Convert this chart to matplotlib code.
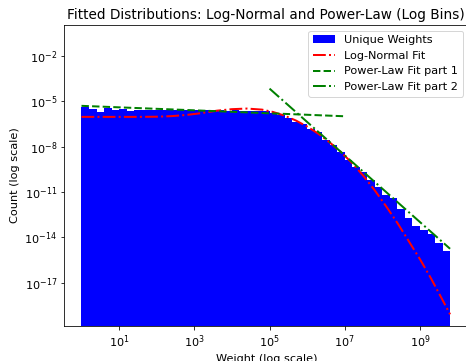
import matplotlib
matplotlib.use("Agg")
import matplotlib.pyplot as plt
import numpy as np

# ---- histogram: log bins (0.2 decade), heights as log10 values ----
bin_log_edges = np.arange(0, 9.81, 0.2)
hist_log_h = [-5.35, -5.53, -5.73, -5.46, -5.58, -5.53, -5.64, -5.58,
              -5.55, -5.57, -5.56, -5.58, -5.57, -5.59, -5.58, -5.60,
              -5.59, -5.60, -5.60, -5.61, -5.60, -5.62, -5.63, -5.64,
              -5.66, -5.75, -5.93, -6.11, -6.37, -6.52, -6.81, -7.03,
              -7.58, -7.91, -8.36, -8.91, -9.35, -9.68, -10.23, -10.68,
              -11.20, -11.42, -12.15, -12.70, -13.26, -13.50, -13.79, -14.38,
              -14.91]

# ---- fitted curves (log10 x, log10 y) ----
lognorm_lx = [0.0, 0.6, 1.0, 1.5, 2.0, 2.4, 2.8, 3.2, 3.6, 4.0, 4.4, 4.8, 5.1, 5.4,
              5.7, 6.0, 6.3, 6.6, 6.9, 7.2, 7.5, 7.8, 8.1, 8.4, 8.7, 9.0, 9.3, 9.6, 9.8]
lognorm_ly = [-6.03, -6.03, -6.03, -6.03, -6.02, -5.98, -5.90, -5.78, -5.62, -5.52,
              -5.48, -5.55, -5.71, -5.95, -6.27, -6.67, -7.15, -7.72, -8.36, -9.10,
              -9.95, -10.90, -11.95, -13.05, -14.25, -15.45, -16.75, -18.15, -19.10]
pl1_lx = [0.0, 7.0]
pl1_ly = [-5.30, -5.99]
pl2_lx = [5.0, 9.8]
pl2_ly = [-4.16, -14.76]

edges = 10 ** bin_log_edges
heights = 10 ** np.array(hist_log_h)

plt.rcParams.update({"font.size": 11.3})
fig = plt.figure(figsize=(466 / 72, 361 / 72), dpi=72)
ax = fig.add_axes([64 / 466, 35 / 361, 404.5 / 466, 301 / 361])
ax.set_xscale("log"); ax.set_yscale("log")
ax.hist(edges[:-1], bins=edges, weights=heights, color="blue", label="Unique Weights")
ax.plot(10 ** np.array(lognorm_lx), 10 ** np.array(lognorm_ly), "r-.", lw=2, label="Log-Normal Fit")
ax.plot(10 ** np.array(pl1_lx), 10 ** np.array(pl1_ly), "g--", lw=2, label="Power-Law Fit part 1")
ax.plot(10 ** np.array(pl2_lx), 10 ** np.array(pl2_ly), "g-.", lw=2, label="Power-Law Fit part 2")

ax.set_xlim(10 ** -0.465, 10 ** 10.29)
ax.set_ylim(10 ** -19.87, 10 ** 0.05)
ax.set_yticks([1e-2, 1e-5, 1e-8, 1e-11, 1e-14, 1e-17])
ax.set_xticks([1e1, 1e3, 1e5, 1e7, 1e9])
ax.minorticks_off()
ax.set_xlabel("Weight (log scale)")
ax.set_ylabel("Count (log scale)")
ax.set_title("Fitted Distributions: Log-Normal and Power-Law (Log Bins)", fontsize=13.6)
ax.legend(loc="upper right")
fig.savefig("out.png", dpi=72)
